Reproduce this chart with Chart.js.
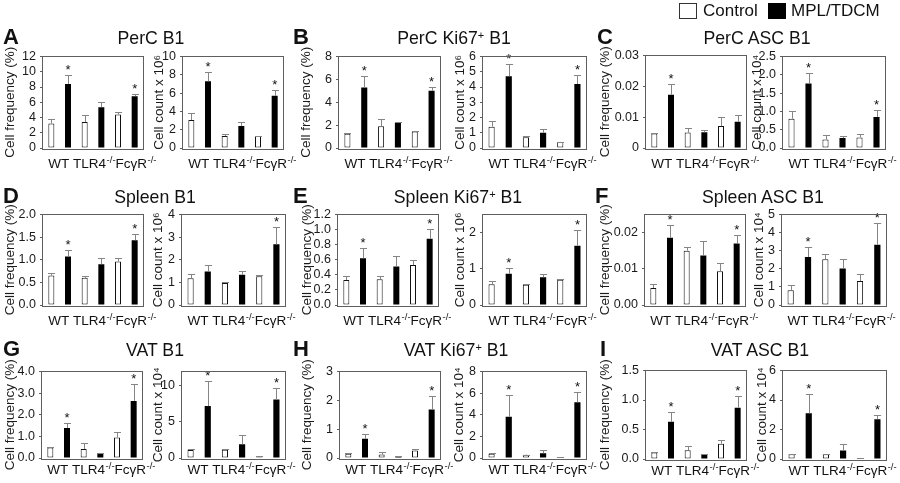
<!DOCTYPE html>
<html><head><meta charset="utf-8">
<script src="https://cdn.jsdelivr.net/npm/chart.js@4.4.1/dist/chart.umd.min.js"></script>
<style>
body{margin:0;background:#fff;}
#fig{position:relative;width:900px;height:483px;overflow:hidden;font-family:"Liberation Sans",Arial,sans-serif;color:#111;background:#fff;}
#fig canvas{position:absolute;}
.t{position:absolute;white-space:nowrap;line-height:1;}
.ptitle{font-size:17.7px;transform:translateX(-50%);}
.plet{font-size:22px;font-weight:bold;}
.leg{font-size:17px;}
.box{position:absolute;width:16px;height:14px;border:1px solid #333;}
sup{font-size:62%;vertical-align:0.5em;line-height:0;}
</style></head>
<body><div id="fig"></div>
<script>
// ---------- data ----------
const categories = ["WT", "TLR4-/-", "FcγR-/-"];
const seriesNames = ["Control", "MPL/TDCM"];

// A  PerC B1
const perC_freq_ctrl = [3.2, 3.4, 4.4], perC_freq_mpl = [8.4, 5.35, 6.8];
const perC_freq_ctrlErr = [0.55, 0.9, 0.35], perC_freq_mplErr = [1.2, 0.65, 0.3];
const perC_freq_star = [1, 0, 1], perC_freq_ticks = ["0","2","4","6","8","10","12"], perC_freq_max = 12;
const perC_count_ctrl = [3.05, 1.3, 1.3], perC_count_mpl = [7.3, 2.4, 5.7];
const perC_count_ctrlErr = [0.8, 0.25, 0.05], perC_count_mplErr = [1.05, 0.45, 0.6];
const perC_count_star = [1, 0, 1], perC_count_ticks = ["0","2","4","6","8","10"], perC_count_max = 10;
// B  PerC Ki67+ B1
const perCKi_freq_ctrl = [1.25, 1.9, 1.45], perCKi_freq_mpl = [5.3, 2.2, 5.0];
const perCKi_freq_ctrlErr = [0.1, 0.65, 0.05], perCKi_freq_mplErr = [1.0, 0.05, 0.3];
const perCKi_freq_star = [1, 0, 1], perCKi_freq_ticks = ["0","2","4","6","8"], perCKi_freq_max = 8;
const perCKi_count_ctrl = [1.4, 0.7, 0.4], perCKi_count_mpl = [4.7, 1.0, 4.2];
const perCKi_count_ctrlErr = [0.35, 0.1, 0.02], perCKi_count_mplErr = [0.8, 0.25, 0.6];
const perCKi_count_star = [1, 0, 1], perCKi_count_ticks = ["0","1","2","3","4","5","6"], perCKi_count_max = 6;
// C  PerC ASC B1
const perCAsc_freq_ctrl = [0.0047, 0.005, 0.0071], perCAsc_freq_mpl = [0.0173, 0.0051, 0.0085];
const perCAsc_freq_ctrlErr = [0.0002, 0.0016, 0.003], perCAsc_freq_mplErr = [0.0035, 0.0008, 0.0021];
const perCAsc_freq_star = [1, 0, 0], perCAsc_freq_ticks = ["0","0.01","0.02","0.03"], perCAsc_freq_max = 0.03;
const perCAsc_count_ctrl = [0.8, 0.23, 0.29], perCAsc_count_mpl = [1.76, 0.27, 0.85];
const perCAsc_count_ctrlErr = [0.22, 0.13, 0.09], perCAsc_count_mplErr = [0.28, 0.07, 0.2];
const perCAsc_count_star = [1, 0, 1], perCAsc_count_ticks = ["0.0","0.5","1.0","1.5","2.0","2.5"], perCAsc_count_max = 2.5;
// D  Spleen B1
const spl_freq_ctrl = [0.65, 0.6, 0.96], spl_freq_mpl = [1.07, 0.9, 1.43];
const spl_freq_ctrlErr = [0.05, 0.05, 0.07], spl_freq_mplErr = [0.15, 0.14, 0.13];
const spl_freq_star = [1, 0, 1], spl_freq_ticks = ["0.0","0.5","1.0","1.5","2.0"], spl_freq_max = 2;
const spl_count_ctrl = [1.18, 0.97, 1.27], spl_count_mpl = [1.48, 1.34, 2.68];
const spl_count_ctrlErr = [0.2, 0.05, 0.07], spl_count_mplErr = [0.27, 0.16, 0.75];
const spl_count_star = [0, 0, 1], spl_count_ticks = ["0","1","2","3","4"], spl_count_max = 4;
// E  Spleen Ki67+ B1
const splKi_freq_ctrl = [0.33, 0.34, 0.53], splKi_freq_mpl = [0.62, 0.51, 0.88];
const splKi_freq_ctrlErr = [0.05, 0.05, 0.07], splKi_freq_mplErr = [0.14, 0.14, 0.13];
const splKi_freq_star = [1, 0, 1], splKi_freq_ticks = ["0.0","0.2","0.4","0.6","0.8","1.0","1.2"], splKi_freq_max = 1.2;
const splKi_count_ctrl = [0.57, 0.56, 0.7], splKi_count_mpl = [0.86, 0.77, 1.64];
const splKi_count_ctrlErr = [0.08, 0.02, 0.03], splKi_count_mplErr = [0.16, 0.09, 0.42];
const splKi_count_star = [1, 0, 1], splKi_count_ticks = ["0","1","2"], splKi_count_max = 2.5;
// F  Spleen ASC B1
const splAsc_freq_ctrl = [0.0047, 0.015, 0.0093], splAsc_freq_mpl = [0.0186, 0.0137, 0.017];
const splAsc_freq_ctrlErr = [0.0012, 0.0011, 0.0022], splAsc_freq_mplErr = [0.0034, 0.004, 0.0024];
const splAsc_freq_star = [1, 0, 1], splAsc_freq_ticks = ["0.00","0.01","0.02"], splAsc_freq_max = 0.025;
const splAsc_count_ctrl = [0.82, 2.53, 1.32], splAsc_count_mpl = [2.65, 2.02, 3.33];
const splAsc_count_ctrlErr = [0.27, 0.3, 0.42], splAsc_count_mplErr = [0.57, 0.54, 1.18];
const splAsc_count_star = [1, 0, 1], splAsc_count_ticks = ["0","1","2","3","4","5"], splAsc_count_max = 5;
// G  VAT B1
const vat_freq_ctrl = [0.48, 0.42, 0.95], vat_freq_mpl = [1.39, 0.22, 2.64];
const vat_freq_ctrlErr = [0.03, 0.26, 0.24], vat_freq_mplErr = [0.22, 0.03, 0.78];
const vat_freq_star = [1, 0, 1], vat_freq_ticks = ["0.0","1.0","2.0","3.0","4.0"], vat_freq_max = 4;
const vat_count_ctrl = [1.1, 1.15, 0.22], vat_count_mpl = [7.2, 1.9, 8.1];
const vat_count_ctrlErr = [0.15, 0.1, 0.03], vat_count_mplErr = [3.55, 1.35, 1.55];
const vat_count_star = [1, 0, 1], vat_count_ticks = ["0","5","10"], vat_count_max = 12;
// H  VAT Ki67+ B1
const vatKi_freq_ctrl = [0.15, 0.12, 0.26], vatKi_freq_mpl = [0.67, 0.07, 1.68];
const vatKi_freq_ctrlErr = [0.01, 0.08, 0.04], vatKi_freq_mplErr = [0.17, 0.01, 0.48];
const vatKi_freq_star = [1, 0, 1], vatKi_freq_ticks = ["0","1","2","3"], vatKi_freq_max = 3;
const vatKi_count_ctrl = [0.4, 0.3, 0.04], vatKi_count_mpl = [3.82, 0.45, 5.16];
const vatKi_count_ctrlErr = [0.05, 0.02, 0.01], vatKi_count_mplErr = [2.03, 0.3, 0.9];
const vatKi_count_star = [1, 0, 1], vatKi_count_ticks = ["0","2","4","6","8"], vatKi_count_max = 8;
// I  VAT ASC B1
const vatAsc_freq_ctrl = [0.11, 0.15, 0.26], vatAsc_freq_mpl = [0.63, 0.07, 0.87];
const vatAsc_freq_ctrlErr = [0.01, 0.07, 0.06], vatAsc_freq_mplErr = [0.17, 0.01, 0.2];
const vatAsc_freq_star = [1, 0, 1], vatAsc_freq_ticks = ["0.0","0.5","1.0","1.5"], vatAsc_freq_max = 1.5;
const vatAsc_count_ctrl = [0.33, 0.33, 0.04], vatAsc_count_mpl = [3.1, 0.58, 2.7];
const vatAsc_count_ctrlErr = [0.03, 0.03, 0.01], vatAsc_count_mplErr = [1.33, 0.42, 0.28];
const vatAsc_count_star = [1, 0, 1], vatAsc_count_ticks = ["0","2","4","6"], vatAsc_count_max = 6;

const freqTitle = "Cell frequency (%)";
const count6Title = "Cell count x 10\u2076";
const count4Title = "Cell count x 10\u2074";

// ---------- chart specs (data references) ----------
const specs = [
  [perC_freq_ctrl, perC_freq_mpl, perC_freq_ctrlErr, perC_freq_mplErr, perC_freq_star, perC_freq_ticks, perC_freq_max, freqTitle],
  [perC_count_ctrl, perC_count_mpl, perC_count_ctrlErr, perC_count_mplErr, perC_count_star, perC_count_ticks, perC_count_max, count6Title],
  [perCKi_freq_ctrl, perCKi_freq_mpl, perCKi_freq_ctrlErr, perCKi_freq_mplErr, perCKi_freq_star, perCKi_freq_ticks, perCKi_freq_max, freqTitle],
  [perCKi_count_ctrl, perCKi_count_mpl, perCKi_count_ctrlErr, perCKi_count_mplErr, perCKi_count_star, perCKi_count_ticks, perCKi_count_max, count6Title],
  [perCAsc_freq_ctrl, perCAsc_freq_mpl, perCAsc_freq_ctrlErr, perCAsc_freq_mplErr, perCAsc_freq_star, perCAsc_freq_ticks, perCAsc_freq_max, freqTitle],
  [perCAsc_count_ctrl, perCAsc_count_mpl, perCAsc_count_ctrlErr, perCAsc_count_mplErr, perCAsc_count_star, perCAsc_count_ticks, perCAsc_count_max, count4Title],
  [spl_freq_ctrl, spl_freq_mpl, spl_freq_ctrlErr, spl_freq_mplErr, spl_freq_star, spl_freq_ticks, spl_freq_max, freqTitle],
  [spl_count_ctrl, spl_count_mpl, spl_count_ctrlErr, spl_count_mplErr, spl_count_star, spl_count_ticks, spl_count_max, count6Title],
  [splKi_freq_ctrl, splKi_freq_mpl, splKi_freq_ctrlErr, splKi_freq_mplErr, splKi_freq_star, splKi_freq_ticks, splKi_freq_max, freqTitle],
  [splKi_count_ctrl, splKi_count_mpl, splKi_count_ctrlErr, splKi_count_mplErr, splKi_count_star, splKi_count_ticks, splKi_count_max, count6Title],
  [splAsc_freq_ctrl, splAsc_freq_mpl, splAsc_freq_ctrlErr, splAsc_freq_mplErr, splAsc_freq_star, splAsc_freq_ticks, splAsc_freq_max, freqTitle],
  [splAsc_count_ctrl, splAsc_count_mpl, splAsc_count_ctrlErr, splAsc_count_mplErr, splAsc_count_star, splAsc_count_ticks, splAsc_count_max, count4Title],
  [vat_freq_ctrl, vat_freq_mpl, vat_freq_ctrlErr, vat_freq_mplErr, vat_freq_star, vat_freq_ticks, vat_freq_max, freqTitle],
  [vat_count_ctrl, vat_count_mpl, vat_count_ctrlErr, vat_count_mplErr, vat_count_star, vat_count_ticks, vat_count_max, count4Title],
  [vatKi_freq_ctrl, vatKi_freq_mpl, vatKi_freq_ctrlErr, vatKi_freq_mplErr, vatKi_freq_star, vatKi_freq_ticks, vatKi_freq_max, freqTitle],
  [vatKi_count_ctrl, vatKi_count_mpl, vatKi_count_ctrlErr, vatKi_count_mplErr, vatKi_count_star, vatKi_count_ticks, vatKi_count_max, count4Title],
  [vatAsc_freq_ctrl, vatAsc_freq_mpl, vatAsc_freq_ctrlErr, vatAsc_freq_mplErr, vatAsc_freq_star, vatAsc_freq_ticks, vatAsc_freq_max, freqTitle],
  [vatAsc_count_ctrl, vatAsc_count_mpl, vatAsc_count_ctrlErr, vatAsc_count_mplErr, vatAsc_count_star, vatAsc_count_ticks, vatAsc_count_max, count4Title]
];

// ---------- layout (plot boxes, y-title centre x, label gap) ----------
const layouts = [
  {l:43,t:55,r:143,b:148,tx:10,g:20},{l:183,t:55,r:283,b:148,tx:159,g:20},
  {l:339,t:55,r:440,b:148,tx:306,g:20},{l:483,t:55,r:586,b:148,tx:460,g:20},
  {l:646,t:54,r:746,b:148,tx:605,g:20},{l:783,t:55,r:885,b:148,tx:757,g:20},
  {l:43,t:213,r:143,b:305,tx:10,g:20},{l:182,t:213,r:285,b:305,tx:158,g:20},
  {l:338,t:213,r:438,b:305,tx:307,g:20},{l:483,t:213,r:586,b:305,tx:460,g:20},
  {l:645,t:213,r:745,b:305,tx:605,g:20},{l:782,t:213,r:886,b:305,tx:759,g:20},
  {l:42,t:370,r:142,b:458,tx:10,g:16},{l:182,t:370,r:285,b:458,tx:158,g:16},
  {l:340,t:370,r:440,b:458,tx:307,g:16},{l:483,t:370,r:586,b:458,tx:459,g:16},
  {l:646,t:369,r:746,b:459,tx:605,g:16},{l:783,t:369,r:886,b:459,tx:762,g:16}
];
const panelTitles = [
  ["A","PerC B1",151,3,45],["B","PerC Ki67<sup>+</sup> B1",454,293,45],["C","PerC ASC B1",757,597,45],
  ["D","Spleen B1",155,3,204],["E","Spleen Ki67<sup>+</sup> B1",458,293,204],["F","Spleen ASC B1",763,595,204],
  ["G","VAT B1",155,3,357],["H","VAT Ki67<sup>+</sup> B1",456,293,357],["I","VAT ASC B1",760,600,357]
];

const FF = "'Liberation Sans', Arial, sans-serif";
const AXC = '#5e5e5e';
Chart.defaults.font.family = FF;
Chart.defaults.animation = false;

const figPlugin = {
  id: 'fig',
  afterDatasetsDraw(chart) {
    const ctx = chart.ctx, ys = chart.scales.y;
    chart.data.datasets.forEach((ds, di) => {
      const meta = chart.getDatasetMeta(di);
      meta.data.forEach((bar, i) => {
        const v = ds.data[i], e = ds.errors[i];
        const yT = Math.round(ys.getPixelForValue(v + e)) + 0.5;
        const x = Math.round(bar.x) + 0.5;
        const hw = bar.width / 2 + 0.5;
        ctx.save();
        ctx.strokeStyle = '#858585'; ctx.lineWidth = 1;
        ctx.beginPath();
        ctx.moveTo(x, bar.y); ctx.lineTo(x, yT);
        ctx.moveTo(x - hw, yT); ctx.lineTo(x + hw, yT);
        ctx.stroke();
        if (ds.stars[i]) {
          ctx.fillStyle = '#111'; ctx.font = '13px ' + FF;
          ctx.textAlign = 'center'; ctx.textBaseline = 'alphabetic';
          ctx.fillText('*', bar.x, yT - 2);
        }
        ctx.restore();
      });
    });
  },
  afterDraw(chart, args, opts) {
    const ctx = chart.ctx, a = chart.chartArea;
    ctx.save();
    ctx.strokeStyle = AXC; ctx.lineWidth = 1;
    ctx.strokeRect(Math.round(a.left) - 0.5, Math.round(a.top) - 0.5,
      Math.round(a.right - a.left) + 1, Math.round(a.bottom - a.top) + 1);
    // category labels, written as one run starting at the first bar
    const b0 = chart.getDatasetMeta(0).data[0];
    let x = b0.x - b0.width / 2;
    const y = a.bottom + opts.gap;
    ctx.fillStyle = '#111'; ctx.textAlign = 'left'; ctx.textBaseline = 'alphabetic';
    chart.data.labels.forEach(lab => {
      const m = lab.match(/^(.*?)(-\/-)?$/);
      ctx.font = '13.5px ' + FF;
      ctx.fillText(m[1], x, y); x += ctx.measureText(m[1]).width;
      if (m[2]) {
        ctx.font = '9.5px ' + FF;
        ctx.fillText(m[2], x + 0.5, y - 5); x += ctx.measureText(m[2]).width + 0.5;
      } else {
        x += ctx.measureText(' ').width;
      }
    });
    ctx.restore();
  }
};

const fig = document.getElementById('fig');

specs.forEach((s, k) => {
  const [ctrl, mpl, ctrlErr, mplErr, star, ticks, ymax, ytitle] = s;
  const L = layouts[k];
  const padTop = 10, xh = 30, padR = 34;
  const cl = Math.round(L.tx - 8.1);
  const yw = L.l - cl;
  const W = yw + (L.r - L.l) + padR;
  const H = (L.b - L.t) + padTop + xh;
  const cv = document.createElement('canvas');
  cv.width = W; cv.height = H;
  cv.style.left = cl + 'px'; cv.style.top = (L.t - padTop) + 'px';
  cv.style.width = W + 'px'; cv.style.height = H + 'px';
  fig.appendChild(cv);
  const tickVals = ticks.map(parseFloat);
  new Chart(cv, {
    type: 'bar',
    data: {
      labels: categories,
      datasets: [
        {label: seriesNames[0], data: ctrl, errors: ctrlErr, stars: [0,0,0],
         backgroundColor: '#ffffff', borderColor: '#111', borderWidth: 1, borderSkipped: false},
        {label: seriesNames[1], data: mpl, errors: mplErr, stars: star,
         backgroundColor: '#000000', borderColor: '#000000', borderWidth: 0}
      ]
    },
    options: {
      responsive: false, devicePixelRatio: 1, animation: false,
      layout: {padding: {top: padTop, right: padR, bottom: 0, left: 0}},
      datasets: {bar: {categoryPercentage: 1.0, barPercentage: 0.36}},
      plugins: {legend: {display: false}, tooltip: {enabled: false}, fig: {gap: L.g}},
      scales: {
        x: {
          afterFit: sc => { sc.height = xh; },
          ticks: {display: false},
          grid: {display: false},
          border: {display: false}
        },
        y: {
          min: 0, max: ymax,
          afterFit: sc => { sc.width = yw; },
          afterBuildTicks: sc => { sc.ticks = tickVals.map(v => ({value: v})); },
          ticks: {callback: (v, i) => ticks[i], font: {size: 12.5, family: FF}, color: '#1a1a1a', padding: 4, autoSkip: false},
          grid: {display: true, drawOnChartArea: false, drawTicks: true, tickLength: 3, color: AXC},
          border: {display: false},
          title: {display: true, text: ytitle, font: {size: 13.5, family: FF}, color: '#1a1a1a', padding: 0}
        }
      }
    },
    plugins: [figPlugin]
  });
});

// panel letters and titles
panelTitles.forEach(([letter, title, cx, lx, base]) => {
  const d1 = document.createElement('div');
  d1.className = 't plet'; d1.textContent = letter;
  d1.style.left = lx + 'px'; d1.style.top = (base - 0.8465 * 22) + 'px';
  fig.appendChild(d1);
  const d2 = document.createElement('div');
  d2.className = 't ptitle'; d2.innerHTML = title;
  d2.style.left = cx + 'px'; d2.style.top = (base - 0.8465 * 17.7) + 'px';
  fig.appendChild(d2);
});

// legend
const legHtml = `
<div class="box" style="left:679px;top:3px;background:#fff"></div>
<div class="t leg" style="left:703px;top:1.6px">${seriesNames[0]}</div>
<div class="box" style="left:768px;top:3px;background:#000;border-color:#000"></div>
<div class="t leg" style="left:791px;top:1.6px">${seriesNames[1]}</div>`;
fig.insertAdjacentHTML('beforeend', legHtml);
</script>
</body></html>
